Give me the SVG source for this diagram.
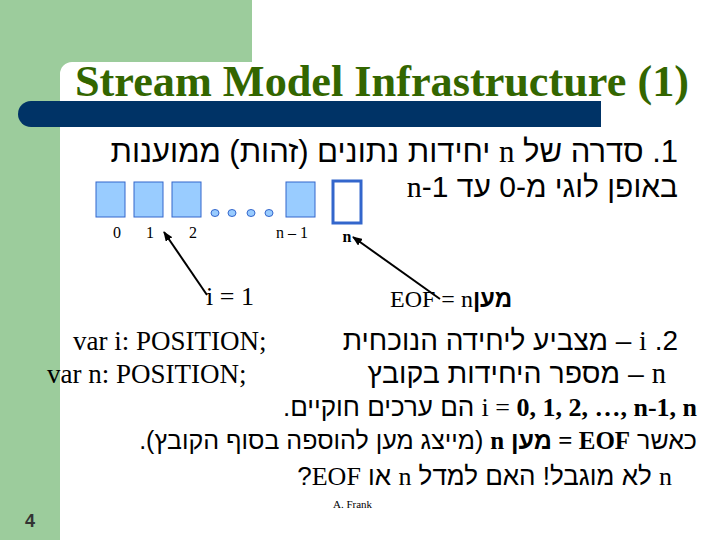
<svg xmlns="http://www.w3.org/2000/svg" width="720" height="540" viewBox="0 0 720 540">
<style>
.he{font-family:"Liberation Sans","DejaVu Sans",sans-serif;direction:rtl;unicode-bidi:embed;text-anchor:start;fill:#000}
.sf{font-family:"Liberation Serif",serif;fill:#000}
.sq{fill:#99ccff;stroke:#3366cc;stroke-width:1}
.dot{fill:#99ccff;stroke:#3366cc;stroke-width:1}
.lb{font-family:"Liberation Serif",serif;font-size:16px;text-anchor:middle}
.conn line{stroke:#000;stroke-width:2;marker-end:url(#ah)}
</style>
<defs><marker id="ah" markerWidth="10" markerHeight="8" refX="9" refY="4" orient="auto" markerUnits="userSpaceOnUse"><path d="M0,0 L10,4 L0,8 Z" fill="#000"/></marker></defs>
<rect width="720" height="540" fill="#fff"/>
<rect x="0" y="0" width="252" height="62" fill="#9ccc9c"/>
<rect x="0" y="0" width="60" height="540" fill="#9ccc9c"/>
<path d="M60,62 h12 a12,12 0 0 0 -12,12 z" fill="#9ccc9c"/>
<rect x="18" y="101" width="583" height="26" rx="13" fill="#003366"/>
<rect x="40" y="101" width="561" height="26" fill="#003366"/>
<text x="75" y="96" font-family="Liberation Serif,serif" font-weight="bold" font-size="44" fill="#336600" textLength="614" lengthAdjust="spacingAndGlyphs">Stream Model Infrastructure (1)</text>
<text class="he" x="678" y="162" font-size="31">1. סדרה של <tspan class="sf">n</tspan> יחידות נתונים (זהות) ממוענות</text>
<text class="he" x="678" y="197" font-size="30">באופן לוגי מ-0 עד 1-<tspan class="sf">n</tspan></text>
<g id="node0"><rect class="sq" x="96" y="182" width="29" height="35"/><text class="lb" x="117" y="238">0</text></g>
<g id="node1"><rect class="sq" x="134" y="182" width="29" height="35"/><text class="lb" x="150" y="238">1</text></g>
<g id="node2"><rect class="sq" x="172" y="182" width="29" height="35"/><text class="lb" x="193" y="238">2</text></g>
<g id="dots"><ellipse class="dot" cx="215" cy="213" rx="4" ry="3.5"/><ellipse class="dot" cx="232" cy="213" rx="4" ry="3.5"/><ellipse class="dot" cx="251" cy="213" rx="4" ry="3.5"/><ellipse class="dot" cx="269" cy="213" rx="4" ry="3.5"/></g>
<g id="noden1"><rect class="sq" x="286" y="182" width="29" height="35"/><text class="lb" x="292" y="238">n – 1</text></g>
<g id="noden"><rect x="333" y="181" width="28" height="42" fill="#fff" stroke="#3366cc" stroke-width="3"/><text class="lb" x="347" y="242" font-weight="bold">n</text></g>
<g class="conn"><line x1="207" y1="295" x2="164" y2="232"/><line x1="440" y1="299" x2="353" y2="237"/></g>
<text class="sf" x="230" y="305" font-size="26" text-anchor="middle">i = 1</text>
<text x="390" y="307" font-size="24"><tspan class="sf">EOF = n</tspan><tspan font-family="Liberation Sans,sans-serif" font-weight="bold">מען</tspan></text>
<text class="sf" x="73" y="350" font-size="27">var i: POSITION;</text>
<text class="sf" x="47" y="383" font-size="27">var n: POSITION;</text>
<text class="he" x="678" y="350" font-size="28">2. <tspan class="sf">i</tspan> – מצביע ליחידה הנוכחית</text>
<text class="he" x="666" y="383" font-size="28.5"><tspan class="sf">n</tspan> – מספר היחידות בקובץ</text>
<text class="he" x="697" y="416" font-size="26"><tspan class="sf">i = <tspan font-weight="bold">0, 1, 2, …, n-1, n</tspan></tspan> הם ערכים חוקיים.</text>
<text class="he" x="697" y="449" font-size="25">כאשר <tspan class="sf" font-weight="bold">EOF = </tspan><tspan font-weight="bold">מען</tspan> <tspan class="sf" font-weight="bold">n</tspan> (מייצג מען להוספה בסוף הקובץ).</text>
<text class="he" x="672" y="485" font-size="26"><tspan class="sf">n</tspan> לא מוגבל! האם למדל <tspan class="sf">n</tspan> או <tspan class="sf">EOF</tspan>?</text>
<text class="sf" x="333" y="508" font-size="11">A. Frank</text>
<text x="30" y="527" font-family="Liberation Sans,sans-serif" font-size="18" font-weight="bold" fill="#333" text-anchor="middle">4</text>
</svg>
